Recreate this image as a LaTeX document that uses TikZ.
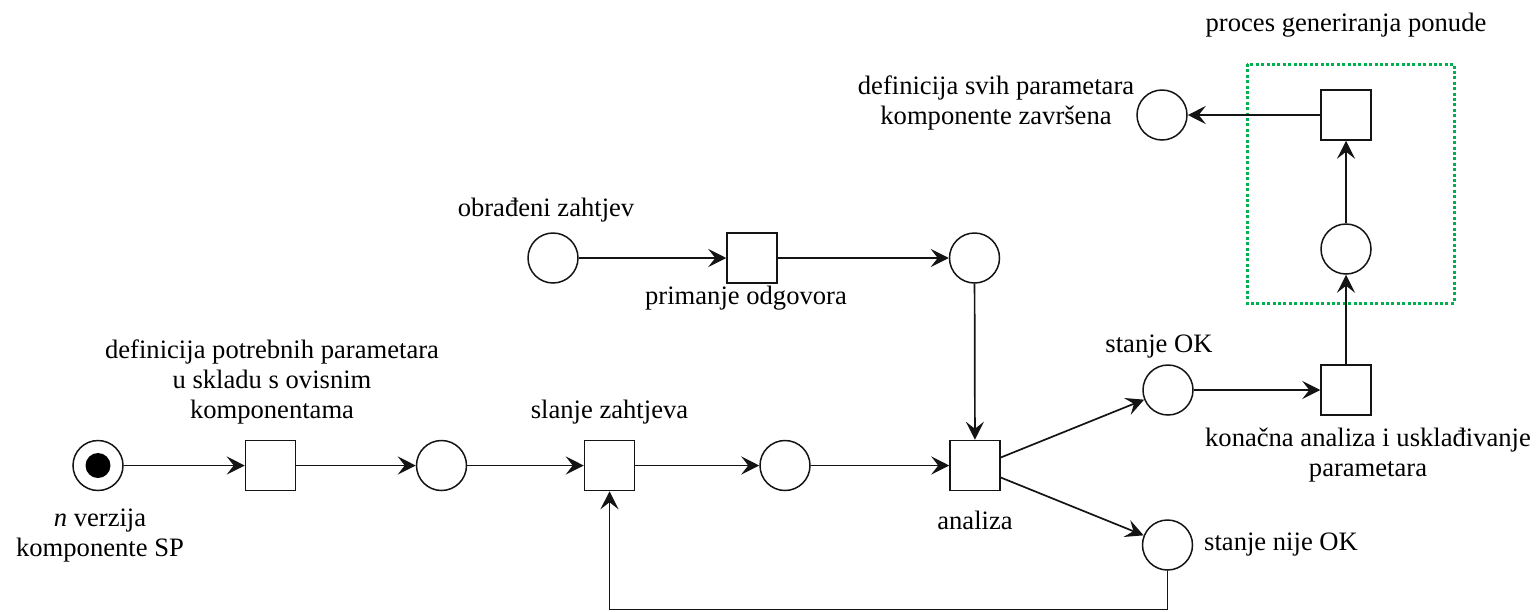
\documentclass[tikz,border=0pt]{standalone}
\usepackage{fontspec}
\setmainfont{LiberationSerif}[Extension=.ttf,UprightFont=*-Regular,ItalicFont=*-Italic,BoldFont=*-Bold]
\usetikzlibrary{arrows.meta}
\definecolor{edgecol}{HTML}{141414}
\definecolor{boxgreen}{HTML}{00B050}
\begin{document}
\begin{tikzpicture}[x=1pt,y=-1pt,
  place/.style={circle,draw=edgecol,line width=1.5pt,minimum size=50pt,inner sep=0pt,fill=white},
  trans/.style={rectangle,draw=edgecol,line width=1.5pt,minimum size=50pt,inner sep=0pt,fill=white},
  token/.style={circle,fill=black,minimum size=25pt,inner sep=0pt},
  lbl/.style={font=\fontsize{26.6}{30}\selectfont,align=center,inner sep=0pt},
  arc/.style={draw=edgecol,line width=1.7pt,-{Stealth[length=18pt,width=18pt,inset=7pt]}},
  line/.style={draw=edgecol,line width=1.7pt},
  group/.style={draw=boxgreen,line width=3pt,dash pattern=on 3pt off 2.4pt}]
\useasboundingbox (0,0) rectangle (1538,611);
% group box
\draw[group] (1247,64) rectangle (1454,303);
% places and transitions
\node[place] (s0) at (98,465.5) {};
\node[token] (tok) at (98,465.5) {};
\node[trans] (t1) at (270.5,465.5) {};
\node[place] (p2) at (441.5,465.5) {};
\node[trans] (t2) at (609.5,465.5) {};
\node[place] (p3) at (785,465.5) {};
\node[trans] (an) at (975,465.5) {};
\node[place] (obr) at (553,258) {};
\node[trans] (prim) at (752,258) {};
\node[place] (p4) at (974.5,258) {};
\node[place] (ok) at (1168,390) {};
\node[trans] (kon) at (1346,390) {};
\node[place] (nok) at (1167.5,545) {};
\node[place] (gp) at (1346,249) {};
\node[trans] (gt) at (1346,115) {};
\node[place] (fin) at (1162,115) {};
\coordinate (fb) at (609.5,609.5);
% arcs
\draw[arc] (s0) -- (t1);
\draw[arc] (t1) -- (p2);
\draw[arc] (p2) -- (t2);
\draw[arc] (t2) -- (p3);
\draw[arc] (p3) -- (an);
\draw[arc] (obr) -- (prim);
\draw[arc] (prim) -- (p4);
\draw[arc] (p4) -- (an);
\draw[arc] ([yshift=8pt]an.east) -- (ok);
\draw[arc] ([yshift=-12pt]an.east) -- (nok);
\draw[arc] (ok) -- (kon);
\draw[arc] (kon) -- (gp);
\draw[arc] (gp) -- (gt);
\draw[arc] (gt) -- (fin);
\draw[line] (nok.south) |- (fb);
\draw[arc] (fb) -- (t2.south);
% labels
\node[lbl] (l1) at (272,382) {definicija potrebnih parametara\\u skladu s ovisnim\\komponentama};
\node[lbl] (l2) at (100,536) {\textit{n} verzija\\komponente SP};
\node[lbl] (l3) at (609.5,412) {slanje zahtjeva};
\node[lbl] (l4) at (546,210) {obrađeni zahtjev};
\node[lbl] (l5) at (746,298) {primanje odgovora};
\node[lbl] (l6) at (975,520) {analiza};
\node[lbl] (l7) at (1159,347) {stanje OK};
\node[lbl,anchor=west] (l8) at (1204,545) {stanje nije OK};
\node[lbl] (l9) at (1368,455) {konačna analiza i usklađivanje\\parametara};
\node[lbl] (l10) at (1346,25) {proces generiranja ponude};
\node[lbl] (l11) at (996,103) {definicija svih parametara\\komponente završena};
\end{tikzpicture}
\end{document}
